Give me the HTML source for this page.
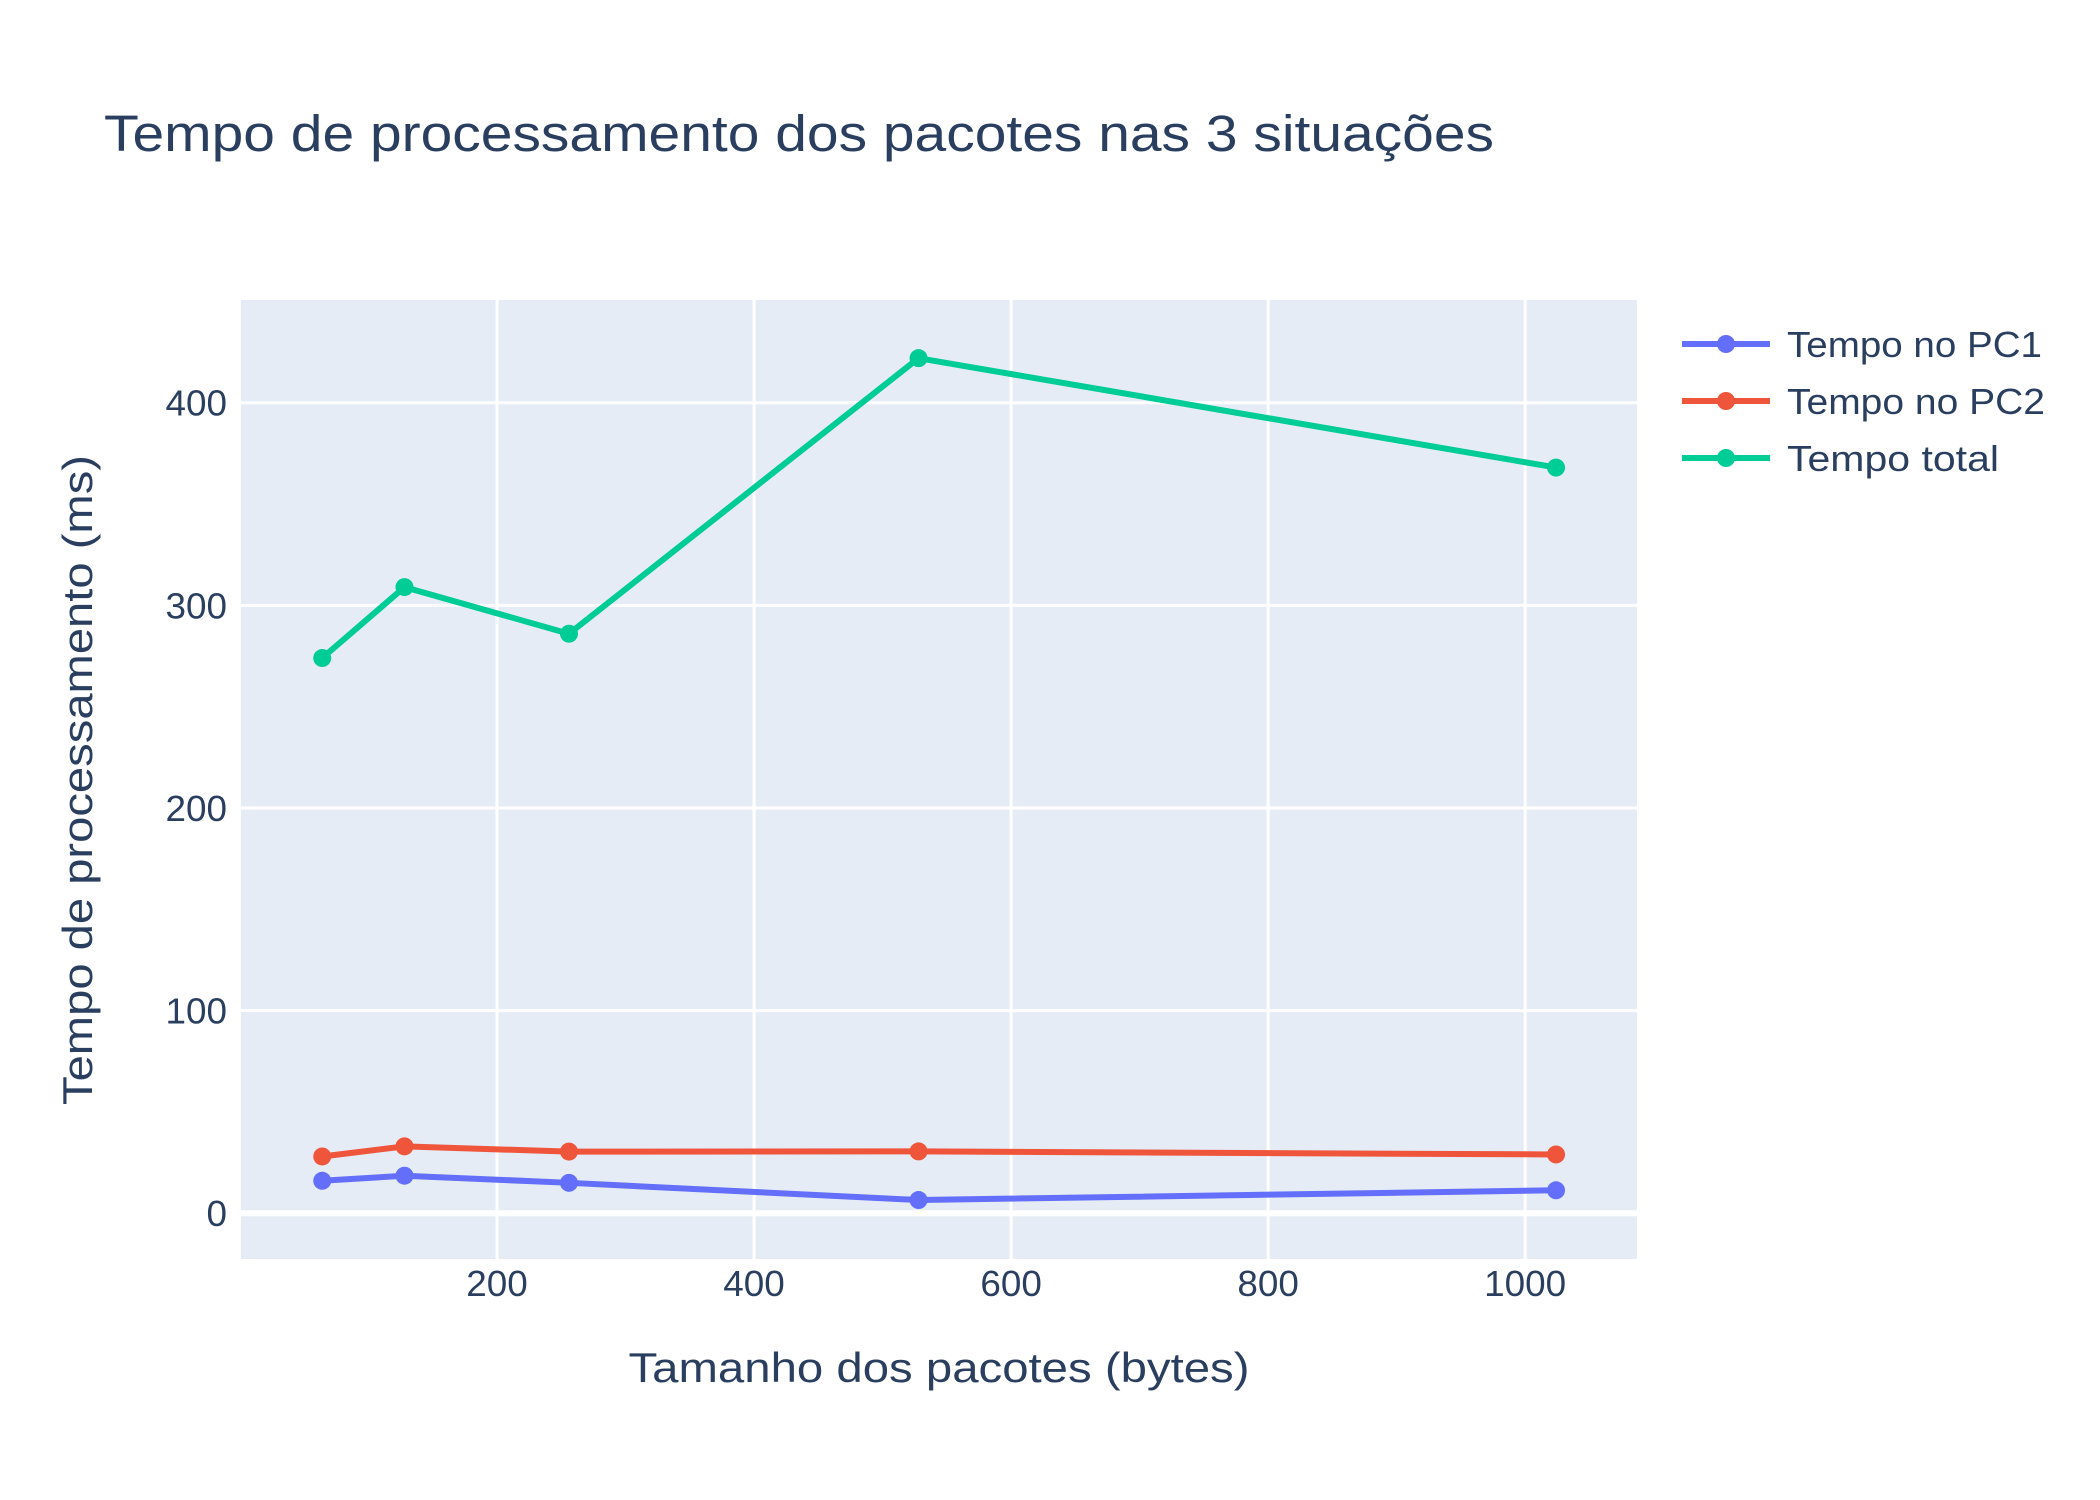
<!DOCTYPE html>
<html><head><meta charset="utf-8"><style>
body{margin:0;background:#fff}
svg{display:block;font-family:"Liberation Sans",sans-serif}
</style></head><body>
<svg id="chart" width="2100" height="1500" viewBox="0 0 2100 1500">
<rect width="2100" height="1500" fill="#fff"/>
<text x="104" y="151" font-size="51" fill="#2a3f5f" textLength="1390" lengthAdjust="spacingAndGlyphs">Tempo de processamento dos pacotes nas 3 situações</text>
<rect x="241" y="300" width="1396" height="959" fill="#e5ecf6"/>
<g id="grid"></g>
<g id="series"></g>
<g id="ticks" font-size="36" fill="#2a3f5f"></g>
<text x="939" y="1382" font-size="42" fill="#2a3f5f" text-anchor="middle" textLength="621" lengthAdjust="spacingAndGlyphs">Tamanho dos pacotes (bytes)</text>
<text transform="translate(92,780) rotate(-90)" font-size="42" fill="#2a3f5f" text-anchor="middle" textLength="650" lengthAdjust="spacingAndGlyphs">Tempo de processamento (ms)</text>
<g id="legend"></g>
</svg>
<script>
const categories = [64, 128, 256, 528, 1024];
const pc1 = [16, 18.5, 15, 6.5, 11.3];
const pc2 = [28, 33, 30.4, 30.5, 29];
const total = [274, 309, 286, 422, 368];
const seriesNames = ["Tempo no PC1", "Tempo no PC2", "Tempo total"];
const legendLens = [255, 258, 212];
const xTicks = [200, 400, 600, 800, 1000];
const yTicks = [0, 100, 200, 300, 400];

const NS = "http://www.w3.org/2000/svg";
const L = 241, R = 1637, T = 300, B = 1259;
const xMin = 0.8, xMax = 1087, yMin = -22.6, yMax = 450.7;
const xs = v => L + (v - xMin) / (xMax - xMin) * (R - L);
const ys = v => B - (v - yMin) / (yMax - yMin) * (B - T);
function mk(tag, attrs, parent){const e=document.createElementNS(NS,tag);for(const k in attrs)e.setAttribute(k,attrs[k]);parent.appendChild(e);return e;}
const grid=document.getElementById('grid'), ticks=document.getElementById('ticks'), ser=document.getElementById('series'), leg=document.getElementById('legend');
xTicks.forEach(v=>{
  const l=mk('line',{x1:xs(v),x2:xs(v),y1:T,y2:B,stroke:'#fff','stroke-width':3},grid);
  
  
  const t=mk('text',{x:xs(v),y:1296,'text-anchor':'middle',textLength:String(v).length*20.5,lengthAdjust:'spacingAndGlyphs'},ticks);t.textContent=v;
  
  
});
yTicks.forEach(v=>{
  const l=mk('line',{x1:L,x2:R,y1:ys(v),y2:ys(v),stroke:'#fff','stroke-width':v===0?6:3},grid);
  
  
  const t=mk('text',{x:227,y:ys(v)+13,'text-anchor':'end',textLength:String(v).length*20.5,lengthAdjust:'spacingAndGlyphs'},ticks);t.textContent=v;
  
  
});
const colors=['#636efa','#ef553b','#00cc96'];
[pc1,pc2,total].forEach((vals,i)=>{
  const p=mk('polyline',{points:vals.map((v,j)=>xs(categories[j])+','+ys(v)).join(' '),fill:'none',stroke:colors[i],'stroke-width':6,'stroke-linejoin':'round'},ser);
  
  
  vals.forEach((v,j)=>{
    const c=mk('circle',{cx:xs(categories[j]),cy:ys(v),r:9,fill:colors[i]},ser);
    
    
  });
  const y=344+i*57;
  const g=mk('g',{},leg);
  
  
  mk('line',{x1:1682,x2:1770,y1:y,y2:y,stroke:colors[i],'stroke-width':6},g);
  mk('circle',{cx:1726,cy:y,r:9,fill:colors[i]},g);
  const t=mk('text',{x:1787,y:y+13,'font-size':36,fill:'#2a3f5f',textLength:legendLens[i],lengthAdjust:'spacingAndGlyphs'},g);t.textContent=seriesNames[i];
});
</script>
</body></html>
